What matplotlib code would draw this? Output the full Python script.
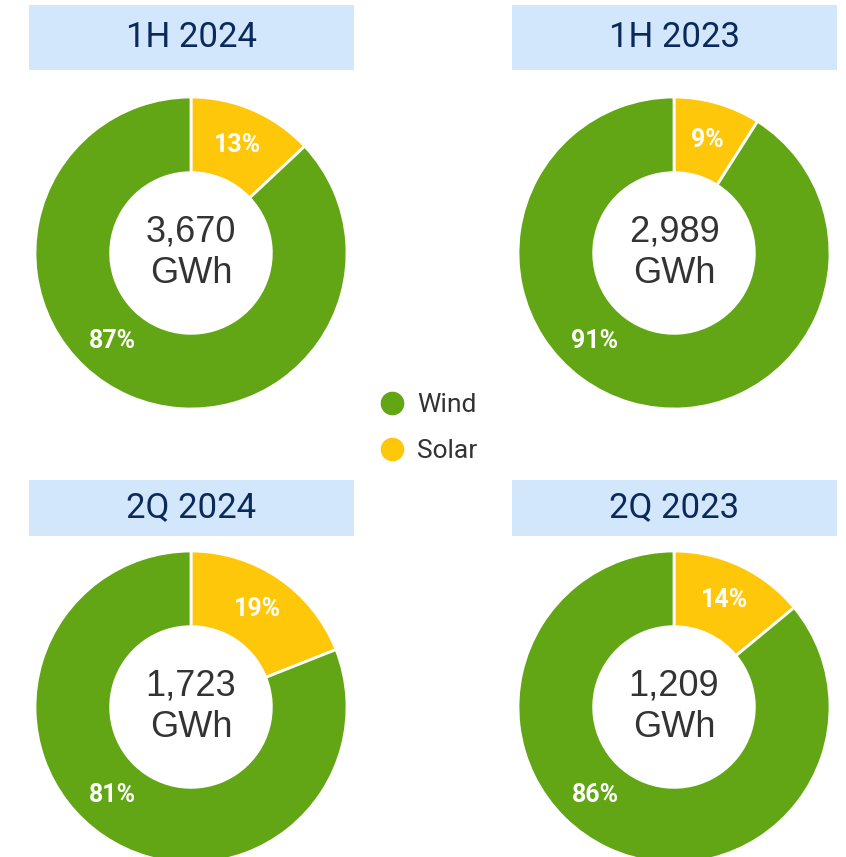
import numpy as np
import matplotlib
matplotlib.use("Agg")
import matplotlib.pyplot as plt
from matplotlib.patches import Rectangle
from matplotlib.lines import Line2D

# data
periods = ["1H 2024", "1H 2023", "2Q 2024", "2Q 2023"]
totals = ["3,670", "2,989", "1,723", "1,209"]
solar_pct = [13, 9, 19, 14]
wind_pct = [87, 91, 81, 86]
series = ["Wind", "Solar"]

GREEN = "#62a615"
YELLOW = "#ffc709"
BOX = "#d3e7fc"
NAVY = "#0b2a5b"
DARK = "#333333"

W, H = 846, 857
fig = plt.figure(figsize=(W / 100, H / 100), dpi=100)
fig.patch.set_facecolor("white")

# layout in pixels: pie centres, radius, title boxes
centres = [(191, 253), (674, 253), (191, 707), (674, 707)]
R = 156
boxes = [(29, 5, 325, 65), (512, 5, 325, 65), (29, 480, 325, 56), (512, 480, 325, 56)]

plt.rcParams['font.family'] = ['Roboto', 'DejaVu Sans']
title_font = ['Liberation Sans Narrow', 'Roboto', 'DejaVu Sans']
centre_font = ['Liberation Sans', 'DejaVu Sans']

for i in range(4):
	cx, cy = centres[i]
	ax = fig.add_axes([(cx - R) / W, 1 - (cy + R) / H, 2 * R / W, 2 * R / H])
	ax.axis("off")
	vals = [solar_pct[i], wind_pct[i]]
	ax.pie(vals, colors=[YELLOW, GREEN], startangle=90, counterclock=False, radius=1,
		wedgeprops=dict(width=0.485, edgecolor="white", linewidth=2))
	ax.set_aspect("equal")
	ax.set_xlim(-1, 1)
	ax.set_ylim(-1, 1)

	r_lab = 0.757
	# solar label at the middle of its wedge
	a = np.deg2rad(90 - solar_pct[i] / 100 * 180)
	ax.text(r_lab * np.cos(a), r_lab * np.sin(a), f"{solar_pct[i]}%", color="white",
		fontsize=18, fontweight="bold", ha="center", va="center")
	# wind label sits lower left
	a = np.deg2rad(228)
	ax.text(r_lab * np.cos(a), r_lab * np.sin(a), f"{wind_pct[i]}%", color="white",
		fontsize=18, fontweight="bold", ha="center", va="center")

	ax.text(0, 0.0, f"{totals[i]}\nGWh", color=DARK, fontsize=26, ha="center", va="center",
		linespacing=1.25, family=centre_font)

	bx, by, bw, bh = boxes[i]
	fig.patches.append(Rectangle((bx / W, 1 - (by + bh) / H), bw / W, bh / H,
		transform=fig.transFigure, facecolor=BOX, edgecolor="none", zorder=0))
	fig.text((bx + bw / 2) / W, 1 - (by + bh / 2) / H, periods[i], color=NAVY,
		fontsize=25, ha="center", va="center", family=title_font)

handles = [Line2D([], [], marker="o", linestyle="none", markersize=16, markerfacecolor=c,
	markeredgecolor=c) for c in [GREEN, YELLOW]]
fig.legend(handles, series, loc="center", bbox_to_anchor=(428 / W, 1 - 428 / H),
	frameon=False, fontsize=19, labelcolor=DARK, labelspacing=0.85, handletextpad=0.45,
	handlelength=1.0)

fig.savefig("out.png", dpi=100)
